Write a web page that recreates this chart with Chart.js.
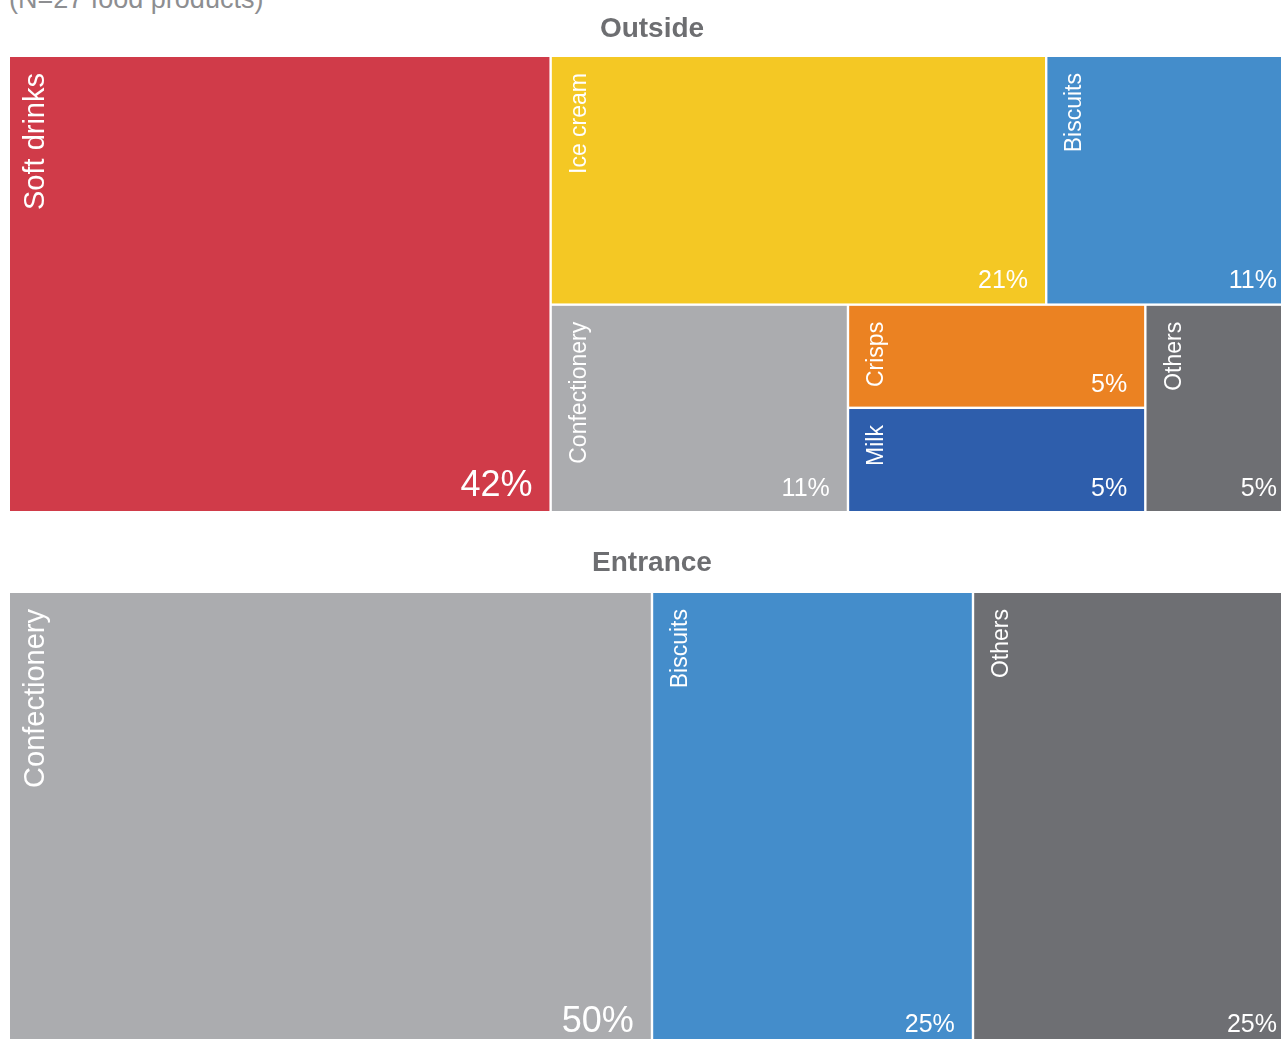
<!DOCTYPE html>
<html lang="en">
<head>
<meta charset="utf-8">
<title>Food products by location</title>
<script src="https://cdn.jsdelivr.net/npm/chart.js@4.4.1/dist/chart.umd.min.js"></script>
<style>
  html, body { margin: 0; padding: 0; background: #fff; overflow: hidden; }
  body { width: 1281px; height: 1039px; position: relative; font-family: 'Liberation Sans', Arial, sans-serif; }
  .sample-note { position: absolute; left: 9px; top: -14px; font-size: 27px; line-height: 27px; color: #8d8e91; white-space: nowrap; }
  .panel { position: absolute; left: 10px; }
  #outsideChart { top: 2px; }
  #entranceChart { top: 536px; }
</style>
</head>
<body>
<div class="sample-note">(N=27 food products)</div>
<canvas id="outsideChart" class="panel" width="1284" height="509"></canvas>
<canvas id="entranceChart" class="panel" width="1284" height="511"></canvas>
<script>
const FONT = "'Liberation Sans', Arial, sans-serif";

// products seen outside the shop
const outsideCategories = ['Soft drinks', 'Ice cream', 'Biscuits', 'Confectionery', 'Crisps', 'Milk', 'Others'];
const outsideCounts = [8, 4, 2, 2, 1, 1, 1];

// products seen at the entrance
const entranceCategories = ['Confectionery', 'Biscuits', 'Others'];
const entranceCounts = [4, 2, 2];

const categoryColors = {
  'Soft drinks': '#d03b49',
  'Ice cream': '#f4c824',
  'Biscuits': '#448dcb',
  'Confectionery': '#abacaf',
  'Crisps': '#eb8222',
  'Milk': '#2e5eac',
  'Others': '#6e6f73'
};

// nesting of the tiles: 'row' puts children side by side, 'col' stacks them
const outsideLayout = { dir: 'row', kids: [0, { dir: 'col', kids: [
  { dir: 'row', kids: [1, 2] },
  { dir: 'row', kids: [3, { dir: 'col', kids: [4, 5] }, 6] }
] }] };
const entranceLayout = { dir: 'row', kids: [0, 1, 2] };

function nodeSize(node, counts) {
  if (typeof node === 'number') return counts[node];
  return node.kids.reduce((acc, k) => acc + nodeSize(k, counts), 0);
}

// splits the box (in scale units) between children in proportion to their counts
function layoutTiles(node, counts, box, out) {
  if (typeof node === 'number') {
    out.push({ index: node, ...box });
    return out;
  }
  const total = nodeSize(node, counts);
  let offset = 0;
  node.kids.forEach(kid => {
    const share = nodeSize(kid, counts) / total;
    if (node.dir === 'row') {
      const w = box.x1 - box.x0;
      layoutTiles(kid, counts, { x0: box.x0 + w * offset, x1: box.x0 + w * (offset + share), y0: box.y0, y1: box.y1 }, out);
    } else {
      const h = box.y1 - box.y0;
      layoutTiles(kid, counts, { x0: box.x0, x1: box.x1, y0: box.y0 + h * offset, y1: box.y0 + h * (offset + share) }, out);
    }
    offset += share;
  });
  return out;
}

const treemapPlugin = {
  id: 'treemapTiles',
  afterDatasetsDraw(chart) {
    const ds = chart.data.datasets[0];
    const { x, y } = chart.scales;
    const area = chart.chartArea;
    const ctx = chart.ctx;
    const total = ds.tileCounts.reduce((a, b) => a + b, 0);
    const largest = Math.max(...ds.tileCounts);
    const tiles = layoutTiles(ds.tileLayout, ds.tileCounts, { x0: 0, x1: 1, y0: 0, y1: 1 }, []);

    ctx.save();
    tiles.forEach(t => {
      let left = x.getPixelForValue(t.x0);
      let right = x.getPixelForValue(t.x1);
      let top = y.getPixelForValue(t.y0);
      let bottom = y.getPixelForValue(t.y1);
      // white gutters between neighbouring tiles
      if (left > area.left + 0.5) left += 1.2;
      if (right < area.right - 0.5) right -= 1.2;
      if (top > area.top + 0.5) top += 1.2;
      if (bottom < area.bottom - 0.5) bottom -= 1.2;

      const name = ds.tileCategories[t.index];
      const count = ds.tileCounts[t.index];
      const big = count === largest;

      ctx.fillStyle = categoryColors[name];
      ctx.fillRect(left, top, right - left, bottom - top);

      // category name, rotated, in the top-left corner
      ctx.fillStyle = '#fff';
      ctx.save();
      ctx.translate(left + 34, top + 16);
      ctx.rotate(-Math.PI / 2);
      ctx.textAlign = 'right';
      ctx.textBaseline = 'alphabetic';
      ctx.font = `${big ? 29 : 23}px ${FONT}`;
      ctx.fillText(name, 0, 0);
      ctx.restore();

      // share of products in the bottom-right corner
      ctx.textAlign = 'right';
      ctx.textBaseline = 'alphabetic';
      ctx.font = `${big ? 36 : 25}px ${FONT}`;
      ctx.fillText(`${Math.round(count / total * 100)}%`, right - 17, bottom - 15);
    });
    ctx.restore();
  }
};

function drawPanel(canvasId, title, categories, counts, layout, titleGap) {
  const ctx = document.getElementById(canvasId).getContext('2d');
  return new Chart(ctx, {
    type: 'scatter',
    data: {
      datasets: [{ data: [], tileCategories: categories, tileCounts: counts, tileLayout: layout }]
    },
    options: {
      responsive: false,
      animation: false,
      layout: { padding: 0 },
      scales: {
        x: { display: false, min: 0, max: 1 },
        y: { display: false, min: 0, max: 1, reverse: true }
      },
      plugins: {
        legend: { display: false },
        tooltip: { enabled: false },
        title: {
          display: true,
          text: title,
          color: '#6d6e71',
          font: { family: FONT, size: 28, weight: 'bold' },
          padding: { top: 10, bottom: titleGap }
        }
      }
    },
    plugins: [treemapPlugin]
  });
}

drawPanel('outsideChart', 'Outside', outsideCategories, outsideCounts, outsideLayout, 11.4);
drawPanel('entranceChart', 'Entrance', entranceCategories, entranceCounts, entranceLayout, 13.4);
</script>
</body>
</html>
